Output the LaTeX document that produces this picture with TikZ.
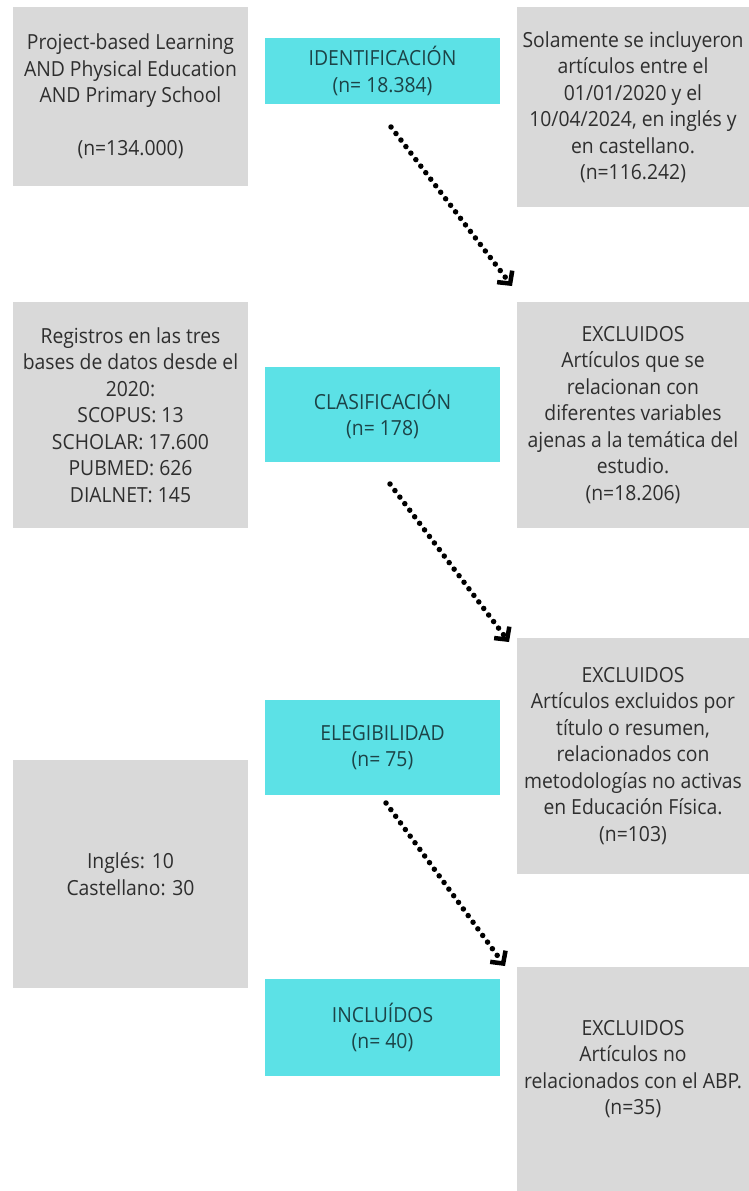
\documentclass[tikz,border=0pt]{standalone}
\usepackage{fontspec}
\setmainfont{Open Sans}[FakeStretch=0.93]
\usetikzlibrary{arrows.meta,calc}
\definecolor{cyanbox}{HTML}{5CE1E6}
\definecolor{greybox}{HTML}{D9D9D9}
\definecolor{txtgrey}{HTML}{2E2E2E}
\definecolor{txtcyan}{HTML}{1C4347}
\begin{document}
\begin{tikzpicture}[x=1pt,y=-1pt,
  box/.style={rectangle, inner sep=0pt, align=center, font=\fontsize{20.8}{26.5}\selectfont},
  greyb/.style={box, fill=greybox, text=txtgrey},
  cyanb/.style={box, fill=cyanbox, text=txtcyan},
  txt/.style={inner sep=0pt, align=center, font=\fontsize{20.8}{26.5}\selectfont, text=txtgrey},
  dotarrow/.style={line width=5.5pt, dash pattern=on 0pt off 8.2pt, line cap=round, -{Straight Barb[length=9pt,width=19pt,line width=4.5pt]}}
]
\useasboundingbox (0,0) rectangle (749,1191);
\fill[white] (0,0) rectangle (749,1191);
% row 1
\node[greyb, minimum width=235pt, minimum height=179pt] (L1) at (130.5,96.5)
  {Project-based Learning\\AND Physical Education\\AND Primary School\\[26.5pt](n=134.000)};
\node[cyanb, minimum width=235pt, minimum height=66pt] (C1) at (382.5,71)
  {IDENTIFICACIÓN\\(n= 18.384)};
\node[greyb, minimum width=232pt, minimum height=200pt] (R1) at (633,107)
  {Solamente se incluyeron\\artículos entre el\\01/01/2020 y el\\10/04/2024, en inglés y\\en castellano.\\(n=116.242)};
% row 2
\node[greyb, minimum width=235pt, minimum height=226pt] (L2) at (130.5,415)
  {Registros en las tres\\bases de datos desde el\\2020:\\SCOPUS: 13\\SCHOLAR: 17.600\\PUBMED: 626\\DIALNET: 145};
\node[cyanb, minimum width=235pt, minimum height=95pt] (C2) at (382.5,414.5)
  {CLASIFICACIÓN\\(n= 178)};
\node[greyb, minimum width=232pt, minimum height=226pt] (R2) at (633,415)
  {EXCLUIDOS\\Artículos que se\\relacionan con\\diferentes variables\\ajenas a la temática del\\estudio.\\(n=18.206)};
% row 3
\node[greyb, minimum width=232pt, minimum height=236pt] (R3) at (633,756)
  {EXCLUIDOS\\Artículos excluidos por\\título o resumen,\\relacionados con\\metodologías no activas\\en Educación Física.\\(n=103)};
\node[cyanb, minimum width=235pt, minimum height=95pt] (C3) at (382.5,747.5)
  {ELEGIBILIDAD\\(n= 75)};
\node[greyb, minimum width=235pt, minimum height=228pt] (L3) at (130.5,874)
  {Inglés: 10\\Castellano: 30};
% row 4
\node[cyanb, minimum width=235pt, minimum height=97pt] (C4) at (382.5,1027.5)
  {INCLUÍDOS\\(n= 40)};
\node[fill=greybox, inner sep=0pt, minimum width=232pt, minimum height=224pt] (R4) at (633,1079) {};
\node[txt] (R4t) at (633,1069)
  {EXCLUIDOS\\Artículos no\\relacionados con el ABP.\\(n=35)};
% arrows
\coordinate (a1s) at (391,127);
\coordinate (a1e) at (512,286);
\coordinate (a2s) at (390,484);
\coordinate (a2e) at (509,642);
\coordinate (a3s) at (386,803);
\coordinate (a3e) at (505,966);
\draw[dotarrow] (a1s) -- (a1e);
\draw[dotarrow] (a2s) -- (a2e);
\draw[dotarrow] (a3s) -- (a3e);
\end{tikzpicture}
\end{document}
